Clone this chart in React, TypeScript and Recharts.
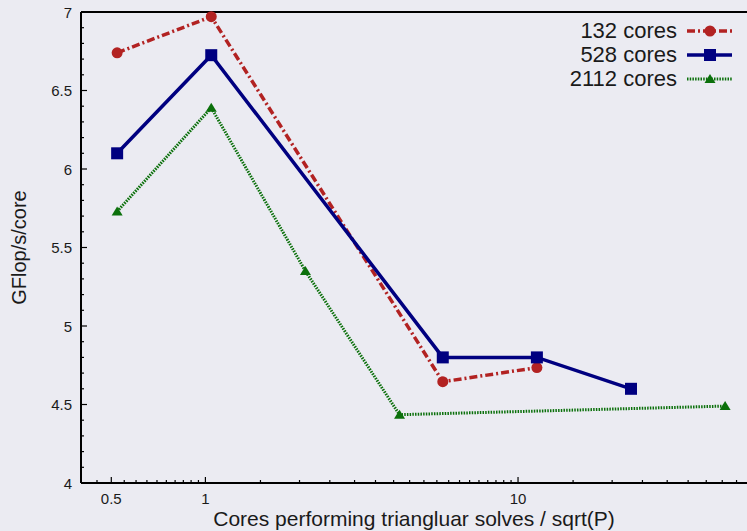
import { LineChart, Line, XAxis, YAxis, ReferenceLine } from 'recharts';

// cores performing the triangular solves, divided by sqrt(P)
const ratio132 = [0.522, 1.044, 5.745, 11.49];
const gflops132 = [6.74, 6.97, 4.645, 4.735];

const ratio528 = [0.522, 1.044, 5.745, 11.49, 22.98];
const gflops528 = [6.1, 6.725, 4.8, 4.8, 4.6];

const ratio2112 = [0.522, 1.044, 2.089, 4.178, 45.96];
const gflops2112 = [5.73, 6.39, 5.35, 4.435, 4.49];

const xLabels = [0.5, 1, 10];
const yLabels = [4, 4.5, 5, 5.5, 6, 6.5, 7];

// minor ticks: 0.05 steps below 1, 0.5 steps up to 10, 5 steps beyond
const xTicks: number[] = [];
for (let i = 8; i <= 20; i++) xTicks.push(+(i * 0.05).toFixed(2));
for (let i = 3; i <= 20; i++) xTicks.push(+(i * 0.5).toFixed(1));
for (let i = 3; i <= 10; i++) xTicks.push(i * 5);
const yTicks: number[] = [];
for (let i = 40; i <= 70; i++) yTicks.push(+(i / 10).toFixed(1));

const zip = (xs: number[], ys: number[]) => xs.map((x, i) => ({ x, y: ys[i] }));

const RED = '#b22222';
const BLUE = '#000080';
const GREEN = '#0b700b';
const FONT = '"Liberation Sans", Arial, sans-serif';
const TEXT = '#1a1a1a';

const series = [
  { name: '132 cores', data: zip(ratio132, gflops132), color: RED, dash: '8 3 2 3', width: 3.5, marker: 'circle' },
  { name: '528 cores', data: zip(ratio528, gflops528), color: BLUE, dash: undefined, width: 3.5, marker: 'square' },
  { name: '2112 cores', data: zip(ratio2112, gflops2112), color: GREEN, dash: '1.5 1.2', width: 3, marker: 'triangle' },
];

const isMajor = (v: number, list: number[]) => list.some((m) => Math.abs(m - v) < 1e-6);

const Marker = ({ cx, cy, kind, color }: { cx: number; cy: number; kind: string; color: string }) => {
  if (kind === 'circle') return <circle cx={cx} cy={cy} r={5.5} fill={color} />;
  if (kind === 'square') return <rect x={cx - 6} y={cy - 6} width={12} height={12} fill={color} />;
  return <polygon points={`${cx - 5.5},${cy + 4} ${cx + 5.5},${cy + 4} ${cx},${cy - 5}`} fill={color} />;
};

const XTick = (props: any) => {
  const { x, y, payload } = props;
  const major = isMajor(payload.value, xLabels);
  return (
    <g>
      <line x1={x} y1={y} x2={x} y2={y - (major ? 6 : 3)} stroke="#000" strokeWidth={1.2} />
      {major && (
        <text x={x} y={y + 21} textAnchor="middle" fontSize={15} fontFamily={FONT} fill={TEXT}>
          {payload.value}
        </text>
      )}
    </g>
  );
};

const YTick = (props: any) => {
  const { x, y, payload } = props;
  const major = isMajor(payload.value, yLabels);
  return (
    <g>
      <line x1={x} y1={y} x2={x + (major ? 6 : 3)} y2={y} stroke="#000" strokeWidth={1.2} />
      {major && (
        <text x={x - 9} y={y + 5.5} textAnchor="end" fontSize={15} fontFamily={FONT} fill={TEXT}>
          {payload.value}
        </text>
      )}
    </g>
  );
};

const LegendBox = () => (
  <div style={{ position: 'absolute', top: 19, left: 530, width: 203, fontFamily: FONT, fontSize: 22, color: TEXT }}>
    {series.map((s) => (
      <div key={s.name} style={{ display: 'flex', justifyContent: 'flex-end', alignItems: 'center', height: 24 }}>
        <span>{s.name}</span>
        <svg width={47} height={16} style={{ marginLeft: 9 }}>
          <line x1={1} y1={8} x2={46} y2={8} stroke={s.color} strokeWidth={s.width} strokeDasharray={s.dash} />
          <Marker cx={24} cy={8} kind={s.marker} color={s.color} />
        </svg>
      </div>
    ))}
  </div>
);

export default function App() {
  return (
    <div style={{ position: 'absolute', left: 0, top: 0, width: 747, height: 531, background: '#ebebf2' }}>
      <LineChart width={747} height={531} margin={{ top: 12, right: 0, bottom: 0, left: 0 }}>
        <XAxis
          dataKey="x"
          type="number"
          scale="log"
          domain={[0.4, 54]}
          ticks={xTicks}
          interval={0}
          height={48}
          tickSize={0}
          tickMargin={0}
          tickLine={false}
          tick={XTick}
          axisLine={{ stroke: '#000', strokeWidth: 2 }}
          allowDuplicatedCategory={false}
          label={{ value: 'Cores performing triangluar solves / sqrt(P)', position: 'center', dy: 12, fontSize: 21, fontFamily: FONT, fill: TEXT }}
        />
        <YAxis
          type="number"
          domain={[4, 7]}
          ticks={yTicks}
          interval={0}
          width={81}
          tickSize={0}
          tickMargin={0}
          tickLine={false}
          tick={YTick}
          axisLine={{ stroke: '#000', strokeWidth: 2 }}
          label={{ value: 'GFlop/s/core', angle: -90, position: 'center', dx: -22, fontSize: 20, fontFamily: FONT, fill: TEXT }}
        />
        <ReferenceLine y={7} stroke="#000" strokeWidth={2} />
        {series.map((s) => (
          <Line
            key={s.name}
            data={s.data}
            dataKey="y"
            name={s.name}
            stroke={s.color}
            strokeWidth={s.width}
            strokeDasharray={s.dash}
            isAnimationActive={false}
            dot={(p: any) => <Marker key={p.index} cx={p.cx} cy={p.cy} kind={s.marker} color={s.color} />}
            activeDot={false}
          />
        ))}
      </LineChart>
      <LegendBox />
    </div>
  );
}
